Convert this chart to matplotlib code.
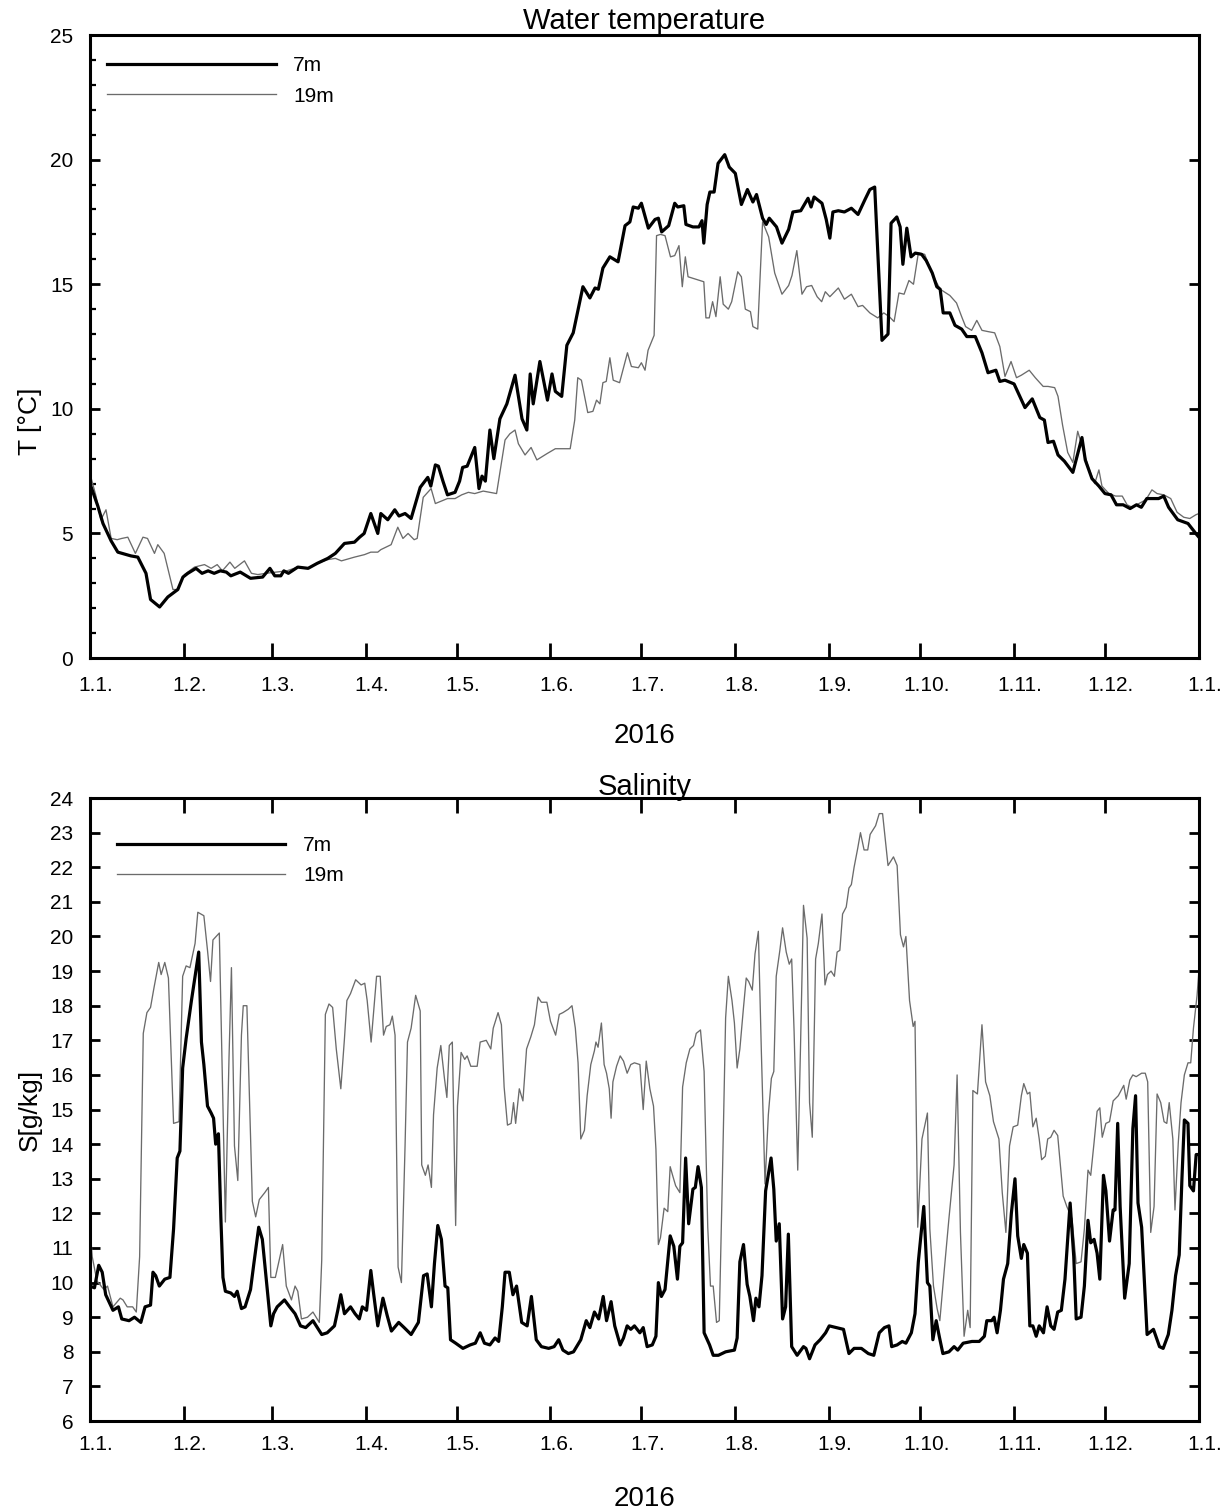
import matplotlib.pyplot as plt
from matplotlib.ticker import MultipleLocator
from matplotlib.transforms import ScaledTranslation

plt.rcParams['font.family'] = ['Liberation Sans', 'DejaVu Sans']

# day of year 2016 (0 = 1.1.)
t7_day = [0, 2.6, 4.3, 7, 9.2, 13.5, 15.8, 18.5, 20, 23, 25.7, 29, 30.7, 32.3, 35, 37, 39, 41, 43, 45,
          46.5, 49.6, 53, 57, 59.4, 61, 63, 64, 65.5, 68.6, 72, 75, 78.5, 81, 84, 87.3, 89, 90.5, 92.7, 95,
          96, 98.3, 100.6, 102, 104, 106, 109, 111.5, 112.5, 114, 115, 116.5, 118, 120.5, 122, 123, 124.5,
          127, 128.4, 129.4, 130.5, 132, 133.3, 135.3, 137.6, 140.3, 142.6, 144.2, 145.3, 146.3, 148.5, 151,
          152.5, 153.6, 155.7, 157.4, 159.5, 162.7, 165, 166.7, 167.8, 169.3, 171.6, 174.3, 176.6, 178.2,
          179.3, 181, 182, 184.3, 186.5, 187.6, 188.7, 191, 193, 194, 196, 196.7, 199, 201, 202, 202.6,
          203.7, 204.6, 206, 207.3, 209.5, 211, 213, 215, 217, 218.8, 220, 222, 223.2, 224.2, 226.6, 228.4,
          230.6, 232, 234.6, 237, 238, 239, 241.6, 243, 244.2, 245.2, 247, 249, 251.3, 253.5, 255.8, 257.4,
          259, 261.4, 263.4, 264.4, 266.3, 267.4, 268.3, 269.6, 271, 272.4, 274.5, 276, 278, 279.5, 280.6,
          281.6, 283.8, 285.5, 287.7, 289.4, 292.2, 294.4, 296.4, 299, 300.3, 302, 305, 308.6, 311, 313.5,
          315, 316.2, 318, 319.5, 321.6, 324.4, 327.4, 328.5, 330.7, 333, 335, 337, 338.8, 341, 343.3,
          345.4, 347, 348.8, 352.7, 354.4, 356, 359, 362.4, 365.3, 366]
t7 = [7.0, 6.1, 5.4, 4.7, 4.25, 4.1, 4.05, 3.4, 2.35, 2.05, 2.45, 2.75, 3.25, 3.4, 3.6, 3.4, 3.5, 3.4, 3.5, 3.45,
      3.3, 3.45, 3.2, 3.25, 3.6, 3.3, 3.3, 3.5, 3.4, 3.65, 3.6, 3.8, 4.0, 4.2, 4.6, 4.65, 4.85, 5.0, 5.8, 5.0,
      5.8, 5.55, 5.95, 5.7, 5.8, 5.6, 6.85, 7.25, 6.9, 7.75, 7.7, 7.1, 6.55, 6.65, 7.1, 7.65, 7.7,
      8.45, 6.8, 7.3, 7.1, 9.15, 8.0, 9.6, 10.2, 11.35, 9.6, 9.15, 11.4, 10.2, 11.9, 10.35,
      11.4, 10.7, 10.5, 12.55, 13.05, 14.9, 14.45, 14.85, 14.8, 15.65, 16.1, 15.9, 17.35, 17.5,
      18.1, 18.05, 18.25, 17.25, 17.6, 17.65, 17.1, 17.35, 18.25, 18.1, 18.15, 17.4, 17.3, 17.3, 17.55, 16.65,
      18.2, 18.7, 18.7, 19.85, 20.2, 19.7, 19.45, 18.2, 18.8, 18.3, 18.6, 17.65, 17.4, 17.65, 17.3, 16.65,
      17.2, 17.9, 17.95, 18.45, 18.1, 18.5, 18.25, 17.6, 16.85, 17.9, 17.95, 17.9, 18.05, 17.8, 18.4, 18.8,
      18.9, 12.75, 13.0, 17.45, 17.7, 17.3, 15.8, 17.25, 16.1, 16.25, 16.2, 15.95, 15.45, 14.9, 14.8,
      13.85, 13.85, 13.35, 13.2, 12.9, 12.9, 12.25, 11.45, 11.55, 11.1, 11.15, 11.0, 10.05, 10.4, 9.65,
      9.55, 8.65, 8.7, 8.15, 7.9, 7.45, 8.85, 7.95, 7.2, 6.9, 6.6, 6.55, 6.15, 6.15, 6.0,
      6.15, 6.05, 6.4, 6.4, 6.5, 6.05, 5.55, 5.4, 4.95, 4.85]

t19_day = [0, 2, 3.6, 5.3, 7, 9, 10.5, 12.5, 15, 17.5, 19, 21.3, 22.4, 24.5, 27.4, 29, 31.2, 34.5, 37.8, 40,
           42, 43.7, 46.2, 47.8, 51, 53.3, 55.4, 58, 61.6, 65, 68.6, 72, 75, 78.5, 81, 83, 87.3, 90.6, 92.7,
           95, 96, 99.4, 101.6, 103.3, 105, 107, 108, 110, 112.6, 114, 118, 120.5, 122.7, 124.9, 127, 129.8,
           132, 134.2, 137, 138.6, 140.3, 141.4, 143.6, 145.6, 147.5, 150.8, 153.6, 158.5, 160, 161, 162.2,
           164.3, 166, 167.2, 168.3, 169.3, 170.4, 171.6, 172.7, 174.8, 177.4, 178.7, 181, 182, 183.2, 184.2,
           186.2, 187, 188.3, 189.8, 191.6, 193, 194.4, 195.5, 196.5, 197.4, 200, 202.6, 203.3, 204.4, 205.5,
           206.6, 208, 209, 210.7, 211.8, 213.8, 215, 216.3, 218, 218.8, 220.4, 222, 224, 226, 228.4, 230.6,
           231.7, 233.3, 235, 236.5, 238.2, 240, 241.5, 242.7, 244.2, 247, 249, 251.3, 253.5, 255, 257.4, 260,
           262, 263.8, 265.4, 267, 268.7, 270.3, 271.8, 273.4, 275.5, 278, 280.6, 283.8, 286, 287.7, 289, 291,
           292.7, 294.4, 296.4, 298.6, 300.3, 302, 304, 305.8, 307.4, 310, 312, 314.6, 316.2, 318.4, 319.5,
           321, 322.7, 324.4, 326, 327.8, 329.4, 331.6, 333, 334, 336.3, 338.5, 340.7, 342.3, 344, 346.2,
           348.5, 350.5, 352.2, 354.4, 356.7, 358.8, 361, 363, 365, 366]
t19 = [7.4, 6.5, 5.55, 5.95, 4.8, 4.75, 4.8, 4.85, 4.2, 4.85, 4.8, 4.2, 4.55, 4.2, 2.75, 2.75, 3.35, 3.65, 3.75, 3.6,
       3.75, 3.5, 3.85, 3.6, 3.9, 3.4, 3.35, 3.4, 3.45, 3.5, 3.65, 3.6, 3.8, 3.95, 4.0, 3.9, 4.05, 4.15, 4.25,
       4.25, 4.35, 4.55, 5.25, 4.8, 5.0, 4.75, 4.8, 6.45, 6.8, 6.2, 6.4, 6.4, 6.55, 6.65, 6.6, 6.7,
       6.65, 6.6, 8.75, 9.0, 9.15, 8.6, 8.15, 8.45, 7.95, 8.2, 8.4, 8.4, 9.55, 11.25, 11.15,
       9.85, 9.9, 10.35, 10.2, 11.05, 11.1, 12.05, 11.15, 11.05, 12.25, 11.7, 11.65, 11.85, 11.55, 12.35,
       12.95, 16.95, 17.0, 16.95, 16.1, 16.15, 16.55, 14.9, 16.1, 15.3, 15.2, 15.1, 13.65, 13.65, 14.3,
       13.7, 15.3, 14.2, 14.0, 14.3, 15.5, 15.3, 14.0, 13.9, 13.3, 13.2, 17.5, 16.9, 15.45, 14.6, 14.95,
       15.35, 16.35, 14.6, 14.9, 14.95, 14.5, 14.3, 14.7, 14.5, 14.85, 14.4, 14.6, 14.1, 14.15, 13.85, 13.65,
       13.85, 13.7, 13.5, 14.65, 14.6, 15.15, 15.0, 16.25, 16.2, 15.4, 14.8, 14.55, 14.25, 13.7, 13.3, 13.15,
       13.55, 13.15, 13.1, 13.05, 12.5, 11.3, 11.9, 11.25, 11.35, 11.55, 11.25, 10.9, 10.9, 10.85, 10.5,
       9.35, 8.25, 7.85, 9.1, 8.35, 7.7, 7.0, 7.55, 6.9, 6.6, 6.5, 6.5, 6.15, 6.05, 6.2,
       6.35, 6.75, 6.6, 6.55, 6.4, 5.85, 5.65, 5.6, 5.75, 5.8]

s7_day = [0, 1.5, 2.9, 4.05, 5.2, 7.6, 9.4, 10.5, 12.9, 14.7, 16.8, 18.2, 20, 20.8, 21.7, 22.9, 24.7, 26.4, 27.6,
          28.8, 29.7, 30.6, 31.75, 33.5, 35.9, 36.8, 37.6, 38.8, 40, 40.8, 41.5, 42.4, 43.2, 43.9, 44.7, 46.5,
          47.7, 48.6, 50, 51.2, 53, 54.1, 55.7, 56.9, 58.3, 59.7, 60.6, 61.8, 64.2, 65.9, 67.7, 69.5, 71.2,
          73.6, 75.4, 76.5, 78.3, 80.7, 81.8, 82.8, 84, 86, 87.5, 88.9, 89.9, 91.3, 92.7, 93.6, 95, 96.7, 98.1,
          99.5, 101.9, 103.7, 106, 108.4, 110.1, 111.3, 112.7, 113.7, 114.8, 116, 117.2, 118.1, 119, 120.7,
          123.1, 125.5, 127.2, 128.8, 130.2, 132, 133.7, 134.9, 136.1, 137, 138.4, 139.6, 140.8, 142.5, 144.3,
          145.7, 147.3, 149, 151.4, 153.2, 154.7, 156.1, 157.9, 159.6, 162, 163.8, 165, 166.5, 167.9, 169.4,
          170.5, 172, 173.2, 175, 176.1, 177.3, 178.5, 179.7, 181.5, 182.6, 183.9, 185.6, 186.8, 187.6, 188.6,
          189.8, 191.5, 192.7, 193.9, 194.7, 195.6, 196.6, 197.6, 199, 199.8, 200.7, 201.8, 202.7, 204.5,
          205.7, 207.4, 209.8, 212.7, 213.6, 214.5, 215.7, 216.9, 217.8, 219, 219.8, 220.8, 221.8, 223, 224.8,
          225.7, 226.5, 227.5, 228.6, 229.6, 230.5, 231.6, 233.4, 235.5, 236.3, 237.5, 239.3, 241, 242.8, 244,
          246.3, 248.7, 250.5, 252.2, 254.6, 256.9, 258.7, 260.5, 262.2, 263.7, 264.6, 266.4, 268.1, 269.3,
          271.1, 272.3, 273.4, 275.2, 276.4, 277.2, 278.2, 279.3, 280.3, 281.5, 283.5, 285.2, 286.4, 288.2,
          291.1, 293.5, 295.2, 296, 297.6, 298.4, 299.4, 300.5, 301.5, 302.9, 304.1, 305.3, 306.2, 307.4,
          308.2, 309.4, 310.2, 311.2, 312.3, 313.3, 314.7, 315.9, 317.1, 318.2, 319.4, 320.6, 321.8, 323.5,
          324.7, 325.5, 327.1, 328.2, 329.4, 330.3, 331.4, 332.4, 333.3, 334.5, 335.3, 336.5, 337.7, 338.3,
          339.2, 340, 341.5, 343, 344.2, 345.1, 345.9, 347.1, 348.9, 351, 353, 354.2, 355.9, 357.1, 358.3,
          359.5, 360.4, 361.2, 362.4, 363, 364.2, 365.1, 366]
s7 = [9.9, 9.85, 10.5, 10.3, 9.65, 9.2, 9.3, 8.95, 8.9, 9.0, 8.85, 9.3, 9.35, 10.3, 10.2, 9.9, 10.1, 10.15, 11.55,
      13.6, 13.8, 16.2, 17.05, 18.15, 19.55, 16.95, 16.3, 15.1, 14.9, 14.75, 14.0, 14.3, 11.9, 10.15, 9.75, 9.7,
      9.6, 9.75, 9.25, 9.3, 9.8, 10.55, 11.6, 11.25, 10.0, 8.75, 9.1, 9.3, 9.5, 9.3, 9.1, 8.75, 8.7,
      8.9, 8.65, 8.5, 8.55, 8.75, 9.2, 9.65, 9.1, 9.3, 9.1, 8.95, 9.3, 9.2, 10.35, 9.7, 8.75, 9.55, 9.05,
      8.6, 8.85, 8.7, 8.5, 8.85, 10.2, 10.25, 9.3, 10.55, 11.65, 11.25, 9.9, 9.85, 8.35, 8.25,
      8.1, 8.2, 8.25, 8.55, 8.25, 8.2, 8.4, 8.3, 9.3, 10.3, 10.3, 9.65, 9.9, 8.85, 8.75,
      9.6, 8.35, 8.15, 8.1, 8.15, 8.35, 8.05, 7.95, 8.0, 8.35, 8.9, 8.7, 9.15, 8.95, 9.6,
      8.9, 9.45, 8.75, 8.2, 8.4, 8.75, 8.65, 8.75, 8.55, 8.7, 8.15, 8.2, 8.45, 10.0, 9.6,
      9.8, 11.35, 11.05, 10.1, 11.05, 11.15, 13.6, 11.7, 12.7, 12.75, 13.35, 12.75, 8.55, 8.2,
      7.9, 7.9, 8.0, 8.05, 8.4, 10.6, 11.1, 9.95, 9.6, 8.9, 9.55, 9.3, 10.2, 12.65, 13.6,
      12.7, 11.2, 11.7, 8.95, 9.3, 11.4, 8.15, 7.9, 8.15, 8.1, 7.8, 8.2, 8.35, 8.55, 8.75,
      8.7, 8.65, 7.95, 8.1, 8.1, 7.95, 7.9, 8.55, 8.7, 8.75, 8.15, 8.2, 8.3, 8.25,
      8.55, 9.1, 10.6, 12.2, 10.0, 9.9, 8.35, 8.9, 8.45, 7.95, 8.0, 8.15, 8.05, 8.25,
      8.3, 8.3, 8.45, 8.9, 8.9, 9.0, 8.55, 9.2, 10.1, 10.55, 12.0, 13.0, 11.35, 10.7,
      11.1, 10.85, 8.75, 8.75, 8.45, 8.75, 8.55, 9.3, 8.75, 8.65, 9.15, 9.2, 10.1, 12.3,
      10.75, 8.95, 9.0, 9.9, 11.8, 11.15, 11.25, 10.85, 10.1, 13.1, 12.65, 11.2, 12.1, 12.1,
      14.6, 12.2, 9.55, 10.55, 14.45, 15.4, 12.3, 11.6, 8.5, 8.65, 8.15, 8.1, 8.5, 9.2, 10.2,
      10.8, 13.0, 14.7, 14.6, 12.8, 12.65, 13.7, 13.7]

s19_day = [0, 0.75, 2.3, 4.6, 5.8, 7.6, 10, 10.9, 12.3, 14.1, 15.3, 16.4, 17.6, 18.8, 20, 21.1, 22.7, 23.5, 24.7,
           25.9, 27.6, 29.4, 30.6, 31.75, 33, 34.7, 35.6, 37.6, 38.8, 39.8, 40.6, 42.7, 44.7, 45.9, 46.7, 47.7,
           48.8, 50, 50.6, 51.8, 53.6, 54.7, 55.9, 57.7, 58.9, 59.7, 61.2, 63.6, 64.8, 66.5, 67.7, 68.6, 69.8,
           71.8, 73.6, 75.7, 76.5, 77.7, 78.9, 80.1, 81.3, 82.8, 84, 84.8, 86, 87.7, 89.5, 90.7, 91.5, 92.8,
           94.6, 95.8, 96.9, 97.8, 99, 99.8, 100.7, 101.7, 102.8, 104, 104.8, 106, 107.5, 109, 109.5, 110.7,
           111.6, 112.7, 113.4, 114.6, 115.8, 117, 117.8, 118.6, 119.6, 120.7, 121.3, 122.5, 123.7, 124.5,
           125.7, 127.8, 128.8, 130.8, 132.3, 133.1, 134.7, 135.8, 136.7, 137.8, 139, 139.8, 140.5, 141.7,
           142.9, 144.1, 145.5, 146.7, 147.9, 149, 150.8, 152, 153.7, 154.9, 156.1, 157.9, 159.1, 160.2,
           161.1, 162, 163.2, 164.1, 165.3, 166.5, 167, 167.7, 168.8, 169.7, 170.5, 171.4, 172, 172.6, 173.8,
           175, 176.1, 177.3, 178.5, 179.7, 181.5, 182.6, 183.6, 184.8, 186, 186.8, 187.6, 188.3, 189.5,
           190.7, 191.5, 192.3, 193.3, 194.7, 195.6, 196.8, 198, 199.2, 200.1, 201.5, 202.7, 203.9, 204.8,
           205.7, 206.8, 207.7, 208.8, 209.8, 210.7, 211.9, 212.7, 213.6, 214.5, 215.7, 216.6, 217.4, 218.6,
           219.5, 220.6, 221.6, 222.8, 223.9, 224.9, 225.7, 226.5, 227.7, 228.6, 229.8, 230.8, 231.6, 232.4,
           233.6, 234.5, 235.5, 236.7, 237.5, 238.4, 239.5, 240.4, 241.6, 242.6, 243.4, 244.6, 245.7, 246.6,
           247.5, 248.4, 249.6, 250.5, 251.3, 252.2, 253.4, 254.3, 255.5, 256.7, 257.5, 259.3, 260.5, 261.6,
           263.4, 265.2, 266.4, 267.5, 268.5, 269.3, 270.5, 271.7, 272.3, 273.2, 274.6, 276.4, 277.2, 278.4,
           279.6, 280.5, 281.9, 283.5, 285.2, 286.2, 287.3, 288.5, 289.7, 290.5, 291.4, 292.9, 294.4, 295.6,
           297, 298.2, 300, 301.1, 302.3, 303.5, 304.7, 306.2, 307.4, 308.2, 309.4, 310.2, 311.2, 312.3, 313.3,
           314.1, 315.3, 316.1, 317.1, 318.2, 319.4, 321.2, 322.4, 324.1, 325.5, 327.1, 328.2, 329.4, 330.3,
           331.4, 332.4, 333.3, 334.1, 335.3, 336.5, 337.7, 339.4, 341.2, 342, 343.2, 344.2, 345.3, 347.1,
           348.3, 349.1, 350.1, 351.2, 352.2, 353.4, 354.5, 355.4, 356.2, 357.4, 358.1, 359.2, 360.1, 361.2,
           362.4, 363.3, 364.2, 365.4, 366]
s19 = [11.6, 10.75, 10.05, 9.8, 9.9, 9.3, 9.55, 9.5, 9.3, 9.3, 9.15, 10.75, 17.2, 17.8, 17.95, 18.5, 19.25, 18.9, 19.25,
       18.8, 14.6, 14.65, 18.85, 19.15, 19.1, 19.8, 20.7, 20.6, 19.6, 18.7, 19.9, 20.1, 11.75, 16.5, 19.1, 13.95,
       12.95, 17.15, 18.0, 18.0, 12.35, 11.9, 12.4, 12.6, 12.75, 10.15, 10.15, 11.1, 9.9, 9.5, 9.9, 9.75, 8.95,
       9.0, 9.15, 8.85, 10.65, 17.75, 18.05, 17.95, 16.75, 15.6, 17.05, 18.15, 18.35, 18.75, 18.6, 18.65, 18.15, 16.95,
       18.85, 18.85, 17.15, 17.4, 17.45, 17.7, 17.15, 10.45, 10.0, 13.95, 16.95, 17.35, 18.3, 17.85, 13.4, 13.1,
       13.4, 12.75, 14.85, 16.2, 16.85, 15.9, 15.35, 16.85, 16.95, 11.65, 15.1, 16.65, 16.45, 16.55,
       16.25, 16.25, 16.95, 17.0, 16.75, 17.35, 17.8, 17.45, 15.65, 14.55, 14.6, 15.2, 14.6, 15.6,
       15.25, 16.75, 17.1, 17.45, 18.25, 18.1, 18.1, 17.55, 17.15, 17.75, 17.8, 17.9, 18.0, 17.35,
       16.35, 14.15, 14.4, 15.4, 16.3, 16.7, 16.95, 16.8, 17.5, 16.3, 16.05, 15.6, 14.75, 15.8, 16.25,
       16.55, 16.4, 16.05, 16.3, 16.35, 16.3, 15.0, 16.4, 15.6, 15.1, 13.85, 11.1, 11.3, 12.15,
       12.05, 13.35, 13.1, 12.8, 12.6, 15.65, 16.35, 16.75, 16.85, 17.2, 17.3, 16.1, 11.6, 9.9,
       9.9, 8.85, 8.9, 13.3, 17.65, 18.85, 18.15, 17.5, 16.2, 16.75, 17.95, 18.8, 18.7, 18.45,
       19.5, 20.15, 16.65, 12.85, 14.85, 15.9, 16.1, 18.85, 19.6, 20.25, 19.55, 19.2, 19.35, 17.25,
       13.25, 16.75, 20.9, 19.95, 15.2, 14.2, 19.35, 19.8, 20.65, 18.6, 18.9, 19.0, 18.85, 19.55,
       19.6, 20.65, 20.85, 21.4, 21.5, 22.0, 22.55, 23.0, 22.5, 22.5, 22.95, 23.2, 23.55, 23.55,
       22.05, 22.3, 22.05, 20.05, 19.7, 20.0, 18.15, 17.4, 17.55, 11.6, 14.15, 14.9, 11.55, 9.9,
       9.25, 8.9, 10.3, 11.85, 13.4, 16.0, 11.45, 8.45, 9.2, 8.7, 15.55, 15.45, 17.45, 15.8,
       15.4, 14.65, 14.15, 12.6, 11.45, 13.95, 14.5, 14.55, 15.4, 15.75, 15.45, 15.5, 14.5, 14.75, 14.15,
       13.55, 13.65, 14.15, 14.2, 14.4, 14.25, 12.5, 12.2, 11.85, 10.55, 10.6, 11.55, 13.25, 13.1,
       14.05, 14.95, 15.05, 14.2, 14.6, 14.65, 15.25, 15.4, 15.7, 15.3, 15.85, 16.0, 15.95, 16.05,
       16.05, 15.8, 11.45, 12.2, 15.45, 15.2, 14.65, 14.6, 15.2, 14.15, 12.1, 14.05, 15.2, 16.0,
       16.35, 16.35, 17.35, 18.3, 19.0]

month_ticks = [0, 31, 60, 91, 121, 152, 182, 213, 244, 274, 305, 335, 366]
month_labels = ['1.1.', '1.2.', '1.3.', '1.4.', '1.5.', '1.6.', '1.7.', '1.8.', '1.9.', '1.10.',
                '1.11.', '1.12.', '1.1.']

fig = plt.figure(figsize=(12.27, 15.10), dpi=100)
ax1 = fig.add_axes([0.0733, 0.5642, 0.9038, 0.4126])
ax2 = fig.add_axes([0.0733, 0.0589, 0.9038, 0.4126])

# temperature
ax1.plot(t7_day, t7, color='black', lw=2.3, label='7m', zorder=3)
ax1.plot(t19_day, t19, color='0.42', lw=0.95, label='19m', zorder=2)
ax1.set_xlim(0, 366)
ax1.set_ylim(0, 25)
ax1.yaxis.set_major_locator(MultipleLocator(5))
ax1.yaxis.set_minor_locator(MultipleLocator(1))
ax1.set_xticks(month_ticks)
ax1.set_xticklabels(month_labels)
ax1.tick_params(axis='x', which='major', direction='in', length=11, width=2, top=False, pad=13, labelsize=15)
ax1.tick_params(axis='y', which='major', direction='in', length=7, width=2, left=True, right=True, pad=12,
                labelsize=15)
ax1.tick_params(axis='y', which='minor', direction='in', length=4.5, width=1.6, left=True, right=False)
ax1.set_title('Water temperature', fontsize=21, pad=2)
ax1.set_xlabel('2016', fontsize=20)
ax1.set_ylabel('T [°C]', fontsize=19)
ax1.xaxis.set_label_coords(0.5, -0.105)
ax1.yaxis.set_label_coords(-0.043, 0.38)
ax1.legend(loc='upper left', bbox_to_anchor=(0.0153, 0.966), frameon=False, fontsize=15,
           handlelength=8.1, handletextpad=0.85, labelspacing=0.55, borderpad=0, borderaxespad=0)

# salinity
ax2.plot(s7_day, s7, color='black', lw=2.3, label='7m', zorder=3)
ax2.plot(s19_day, s19, color='0.42', lw=0.95, label='19m', zorder=2)
ax2.set_xlim(0, 366)
ax2.set_ylim(6, 24)
ax2.yaxis.set_major_locator(MultipleLocator(1))
ax2.set_xticks(month_ticks)
ax2.set_xticklabels(month_labels)
ax2.tick_params(axis='x', which='major', direction='in', length=11, width=2, top=True, bottom=True, pad=10,
                labelsize=15)
ax2.tick_params(axis='y', which='major', direction='in', length=7, width=2, left=True, right=True, pad=12,
                labelsize=15)
ax2.set_title('Salinity', fontsize=21, pad=2)
ax2.set_xlabel('2016', fontsize=20)
ax2.set_ylabel('S[g/kg]', fontsize=19)
ax2.xaxis.set_label_coords(0.5, -0.105)
ax2.yaxis.set_label_coords(-0.043, 0.5)
ax2.legend(loc='upper left', bbox_to_anchor=(0.024, 0.939), frameon=False, fontsize=15,
           handlelength=8.1, handletextpad=0.85, labelspacing=0.55, borderpad=0, borderaxespad=0)

# month labels sit a little right of their ticks in the original
shift = ScaledTranslation(6 / 100, 0, fig.dpi_scale_trans)
for ax in (ax1, ax2):
    for sp in ax.spines.values():
        sp.set_linewidth(2.2)
    for lab in ax.get_xticklabels():
        lab.set_transform(lab.get_transform() + shift)

fig.savefig('out.png', dpi=100)
